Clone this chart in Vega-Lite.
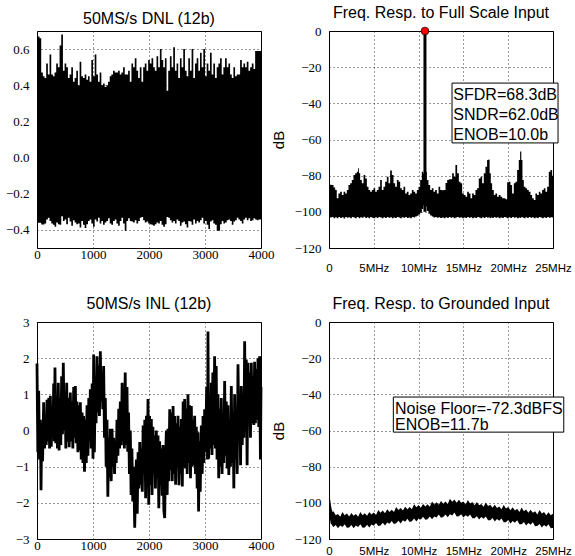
{
"$schema":"https://vega.github.io/schema/vega-lite/v6.json",
"background":"white",
"padding":{"left":4,"top":4,"right":0,"bottom":0},
"bounds":"flush",
"columns":2,
"spacing":{"row":74,"column":68},
"config":{
 "view":{"stroke":"black","strokeWidth":1},
 "axis":{"grid":true,"gridColor":"black","gridDash":[1,3],"gridOpacity":1,"gridWidth":0.8,"domain":false,"ticks":false,"labelFont":"Liberation Serif","labelFontSize":13,"labelColor":"black","labelFlush":false,"labelOverlap":false,"titleFont":"Liberation Sans","titleFontWeight":"normal","titleFontSize":15,"titleColor":"black"},
 "axisX":{"labelPadding":0},
 "axisY":{"labelPadding":8},
 "title":{"font":"Liberation Sans","fontSize":16,"fontWeight":"normal","offset":4,"color":"black"}
},
"datasets":{
"dnl":[
{"x":0,"hi":0.62,"lo":-0.36},{"x":30,"hi":0.67,"lo":-0.36},{"x":60,"hi":0.66,"lo":-0.36},{"x":90,"hi":0.47,"lo":-0.37},{"x":119,"hi":0.45,"lo":-0.37},{"x":149,"hi":0.44,"lo":-0.365},{"x":179,"hi":0.52,"lo":-0.342},{"x":209,"hi":0.46,"lo":-0.333},{"x":239,"hi":0.57,"lo":-0.35},{"x":269,"hi":0.46,"lo":-0.365},
{"x":299,"hi":0.45,"lo":-0.372},{"x":328,"hi":0.47,"lo":-0.382},{"x":358,"hi":0.52,"lo":-0.359},{"x":388,"hi":0.50,"lo":-0.368},{"x":418,"hi":0.62,"lo":-0.372},{"x":448,"hi":0.68,"lo":-0.324},{"x":478,"hi":0.48,"lo":-0.35},{"x":507,"hi":0.52,"lo":-0.342},{"x":537,"hi":0.50,"lo":-0.368},{"x":567,"hi":0.44,"lo":-0.333},
{"x":597,"hi":0.46,"lo":-0.354},{"x":627,"hi":0.50,"lo":-0.377},{"x":657,"hi":0.42,"lo":-0.347},{"x":687,"hi":0.44,"lo":-0.359},{"x":716,"hi":0.48,"lo":-0.368},{"x":746,"hi":0.40,"lo":-0.365},{"x":776,"hi":0.53,"lo":-0.386},{"x":806,"hi":0.45,"lo":-0.35},{"x":836,"hi":0.44,"lo":-0.372},{"x":866,"hi":0.46,"lo":-0.389},
{"x":896,"hi":0.43,"lo":-0.368},{"x":925,"hi":0.45,"lo":-0.35},{"x":955,"hi":0.42,"lo":-0.342},{"x":985,"hi":0.54,"lo":-0.365},{"x":1015,"hi":0.45,"lo":-0.382},{"x":1045,"hi":0.57,"lo":-0.342},{"x":1075,"hi":0.46,"lo":-0.354},{"x":1104,"hi":0.42,"lo":-0.333},{"x":1134,"hi":0.47,"lo":-0.365},{"x":1164,"hi":0.40,"lo":-0.35},
{"x":1194,"hi":0.41,"lo":-0.372},{"x":1224,"hi":0.39,"lo":-0.359},{"x":1254,"hi":0.40,"lo":-0.35},{"x":1284,"hi":0.42,"lo":-0.336},{"x":1313,"hi":0.45,"lo":-0.365},{"x":1343,"hi":0.46,"lo":-0.372},{"x":1373,"hi":0.48,"lo":-0.35},{"x":1403,"hi":0.47,"lo":-0.342},{"x":1433,"hi":0.47,"lo":-0.365},{"x":1463,"hi":0.48,"lo":-0.377},
{"x":1493,"hi":0.46,"lo":-0.35},{"x":1522,"hi":0.47,"lo":-0.333},{"x":1552,"hi":0.50,"lo":-0.365},{"x":1582,"hi":0.46,"lo":-0.404},{"x":1612,"hi":0.46,"lo":-0.35},{"x":1642,"hi":0.48,"lo":-0.336},{"x":1672,"hi":0.42,"lo":-0.35},{"x":1701,"hi":0.52,"lo":-0.354},{"x":1731,"hi":0.50,"lo":-0.359},{"x":1761,"hi":0.55,"lo":-0.347},
{"x":1791,"hi":0.48,"lo":-0.365},{"x":1821,"hi":0.44,"lo":-0.35},{"x":1851,"hi":0.50,"lo":-0.333},{"x":1881,"hi":0.42,"lo":-0.329},{"x":1910,"hi":0.50,"lo":-0.347},{"x":1940,"hi":0.52,"lo":-0.359},{"x":1970,"hi":0.48,"lo":-0.354},{"x":2000,"hi":0.54,"lo":-0.365},{"x":2030,"hi":0.52,"lo":-0.368},{"x":2060,"hi":0.55,"lo":-0.372},
{"x":2090,"hi":0.50,"lo":-0.377},{"x":2119,"hi":0.48,"lo":-0.368},{"x":2149,"hi":0.56,"lo":-0.359},{"x":2179,"hi":0.50,"lo":-0.365},{"x":2209,"hi":0.60,"lo":-0.35},{"x":2239,"hi":0.54,"lo":-0.372},{"x":2269,"hi":0.50,"lo":-0.382},{"x":2299,"hi":0.55,"lo":-0.368},{"x":2328,"hi":0.37,"lo":-0.329},{"x":2358,"hi":0.48,"lo":-0.333},
{"x":2388,"hi":0.56,"lo":-0.347},{"x":2418,"hi":0.50,"lo":-0.359},{"x":2448,"hi":0.61,"lo":-0.35},{"x":2478,"hi":0.48,"lo":-0.365},{"x":2507,"hi":0.52,"lo":-0.342},{"x":2537,"hi":0.44,"lo":-0.35},{"x":2567,"hi":0.55,"lo":-0.377},{"x":2597,"hi":0.50,"lo":-0.359},{"x":2627,"hi":0.60,"lo":-0.354},{"x":2657,"hi":0.48,"lo":-0.368},
{"x":2687,"hi":0.45,"lo":-0.386},{"x":2716,"hi":0.55,"lo":-0.35},{"x":2746,"hi":0.48,"lo":-0.354},{"x":2776,"hi":0.60,"lo":-0.372},{"x":2806,"hi":0.44,"lo":-0.342},{"x":2836,"hi":0.52,"lo":-0.365},{"x":2866,"hi":0.55,"lo":-0.35},{"x":2896,"hi":0.48,"lo":-0.359},{"x":2925,"hi":0.58,"lo":-0.347},{"x":2955,"hi":0.50,"lo":-0.333},
{"x":2985,"hi":0.60,"lo":-0.365},{"x":3015,"hi":0.45,"lo":-0.35},{"x":3045,"hi":0.52,"lo":-0.372},{"x":3075,"hi":0.48,"lo":-0.395},{"x":3104,"hi":0.58,"lo":-0.354},{"x":3134,"hi":0.46,"lo":-0.347},{"x":3164,"hi":0.52,"lo":-0.365},{"x":3194,"hi":0.44,"lo":-0.372},{"x":3224,"hi":0.50,"lo":-0.404},{"x":3254,"hi":0.52,"lo":-0.404},
{"x":3284,"hi":0.55,"lo":-0.368},{"x":3313,"hi":0.46,"lo":-0.35},{"x":3343,"hi":0.50,"lo":-0.365},{"x":3373,"hi":0.55,"lo":-0.359},{"x":3403,"hi":0.50,"lo":-0.347},{"x":3433,"hi":0.52,"lo":-0.342},{"x":3463,"hi":0.46,"lo":-0.35},{"x":3493,"hi":0.44,"lo":-0.372},{"x":3522,"hi":0.50,"lo":-0.354},{"x":3552,"hi":0.45,"lo":-0.347},
{"x":3582,"hi":0.46,"lo":-0.333},{"x":3612,"hi":0.46,"lo":-0.342},{"x":3642,"hi":0.54,"lo":-0.35},{"x":3672,"hi":0.50,"lo":-0.365},{"x":3701,"hi":0.52,"lo":-0.342},{"x":3731,"hi":0.50,"lo":-0.333},{"x":3761,"hi":0.53,"lo":-0.347},{"x":3791,"hi":0.48,"lo":-0.336},{"x":3821,"hi":0.50,"lo":-0.35},{"x":3851,"hi":0.52,"lo":-0.347},
{"x":3881,"hi":0.49,"lo":-0.336},{"x":3910,"hi":0.59,"lo":-0.342},{"x":3940,"hi":0.59,"lo":-0.347},{"x":3970,"hi":0.59,"lo":-0.342},{"x":4000,"hi":0.59,"lo":-0.342}
],
"inl":[
{"x":0,"v":1.85},{"x":15,"v":-0.6},{"x":30,"v":1.1},{"x":45,"v":-0.8},{"x":60,"v":0.3},{"x":72,"v":-1.65},{"x":85,"v":0.2},{"x":100,"v":-0.85},{"x":119,"v":0.78},{"x":135,"v":-0.5},
{"x":150,"v":0.4},{"x":165,"v":-0.4},{"x":179,"v":0.85},{"x":195,"v":-0.3},{"x":210,"v":0.9},{"x":225,"v":-0.5},{"x":238,"v":0.96},{"x":255,"v":-0.45},{"x":270,"v":0.6},{"x":285,"v":-0.2},
{"x":298,"v":1.3},{"x":310,"v":-0.3},{"x":321,"v":1.74},{"x":335,"v":-0.35},{"x":350,"v":0.8},{"x":365,"v":-0.5},{"x":380,"v":1.32},{"x":395,"v":-0.55},{"x":410,"v":0.9},{"x":425,"v":-0.4},
{"x":440,"v":1.5},{"x":455,"v":-0.1},{"x":470,"v":1.87},{"x":485,"v":0.0},{"x":500,"v":1.1},{"x":515,"v":-0.5},{"x":530,"v":1.32},{"x":545,"v":-0.3},{"x":560,"v":0.9},{"x":575,"v":-0.46},
{"x":595,"v":1.05},{"x":610,"v":-0.3},{"x":625,"v":0.8},{"x":640,"v":-0.5},{"x":655,"v":1.2},{"x":670,"v":-0.2},{"x":685,"v":1.23},{"x":700,"v":-0.35},{"x":714,"v":0.8},{"x":730,"v":-0.6},
{"x":745,"v":0.7},{"x":760,"v":-0.55},{"x":774,"v":0.78},{"x":790,"v":-0.8},{"x":805,"v":0.5},{"x":820,"v":-0.9},{"x":833,"v":0.4},{"x":848,"v":-1.14},{"x":865,"v":0.3},{"x":880,"v":-0.9},
{"x":893,"v":0.7},{"x":910,"v":-0.7},{"x":925,"v":0.9},{"x":940,"v":-0.3},{"x":952,"v":1.14},{"x":968,"v":-0.5},{"x":985,"v":1.3},{"x":1000,"v":-0.78},{"x":1012,"v":2.1},{"x":1025,"v":-0.6},
{"x":1040,"v":1.5},{"x":1055,"v":0.2},{"x":1071,"v":2.05},{"x":1085,"v":0.5},{"x":1100,"v":1.8},{"x":1115,"v":0.4},{"x":1131,"v":2.19},{"x":1145,"v":0.8},{"x":1160,"v":1.6},{"x":1175,"v":0.59},
{"x":1190,"v":1.78},{"x":1205,"v":-0.2},{"x":1220,"v":0.9},{"x":1235,"v":-1.0},{"x":1250,"v":0.3},{"x":1265,"v":-1.83},{"x":1280,"v":-0.2},{"x":1295,"v":-1.3},{"x":1309,"v":0.05},{"x":1325,"v":-1.4},
{"x":1340,"v":0.05},{"x":1355,"v":-1.0},{"x":1369,"v":-0.2},{"x":1385,"v":-1.2},{"x":1400,"v":-0.3},{"x":1415,"v":-0.9},{"x":1428,"v":0.3},{"x":1445,"v":-0.7},{"x":1460,"v":0.6},{"x":1475,"v":-0.5},
{"x":1488,"v":0.8},{"x":1505,"v":-0.41},{"x":1520,"v":1.32},{"x":1535,"v":-0.3},{"x":1547,"v":1.0},{"x":1560,"v":-0.5},{"x":1575,"v":1.6},{"x":1590,"v":-0.4},{"x":1607,"v":1.2},{"x":1620,"v":-0.59},
{"x":1635,"v":0.5},{"x":1650,"v":-1.2},{"x":1666,"v":0.0},{"x":1680,"v":-1.78},{"x":1695,"v":-0.5},{"x":1710,"v":-1.96},{"x":1726,"v":-1.0},{"x":1745,"v":-2.69},{"x":1760,"v":-1.5},{"x":1775,"v":-0.8},
{"x":1790,"v":-2.3},{"x":1805,"v":-0.6},{"x":1820,"v":-1.6},{"x":1835,"v":-0.32},{"x":1850,"v":-1.5},{"x":1865,"v":-0.5},{"x":1880,"v":-1.69},{"x":1895,"v":0.14},{"x":1910,"v":-1.2},{"x":1925,"v":0.3},
{"x":1940,"v":-1.87},{"x":1955,"v":0.41},{"x":1970,"v":-1.0},{"x":1982,"v":0.87},{"x":1995,"v":-2.05},{"x":2010,"v":0.4},{"x":2025,"v":-1.5},{"x":2042,"v":0.32},{"x":2055,"v":-1.78},{"x":2070,"v":0.1},
{"x":2085,"v":-1.2},{"x":2101,"v":-0.14},{"x":2115,"v":-1.6},{"x":2130,"v":0.0},{"x":2145,"v":-1.3},{"x":2161,"v":-0.14},{"x":2175,"v":-2.15},{"x":2190,"v":-0.3},{"x":2205,"v":-1.5},{"x":2220,"v":-0.5},
{"x":2235,"v":-1.8},{"x":2250,"v":-0.4},{"x":2265,"v":-2.2},{"x":2280,"v":-2.42},{"x":2295,"v":-0.8},{"x":2310,"v":0.0},{"x":2325,"v":-1.78},{"x":2339,"v":0.05},{"x":2355,"v":-1.4},{"x":2370,"v":0.59},
{"x":2385,"v":-1.1},{"x":2399,"v":0.5},{"x":2415,"v":-1.4},{"x":2430,"v":0.68},{"x":2445,"v":-1.2},{"x":2458,"v":0.4},{"x":2475,"v":-1.5},{"x":2490,"v":0.2},{"x":2505,"v":-1.0},{"x":2518,"v":0.41},
{"x":2535,"v":-1.51},{"x":2550,"v":0.1},{"x":2565,"v":-1.2},{"x":2577,"v":0.32},{"x":2595,"v":-1.55},{"x":2610,"v":0.8},{"x":2625,"v":-1.0},{"x":2637,"v":0.87},{"x":2652,"v":-1.05},{"x":2667,"v":0.6},
{"x":2682,"v":-1.2},{"x":2696,"v":1.0},{"x":2712,"v":-0.9},{"x":2726,"v":0.7},{"x":2741,"v":-1.32},{"x":2756,"v":0.68},{"x":2770,"v":-1.0},{"x":2785,"v":0.3},{"x":2800,"v":-0.96},{"x":2815,"v":0.41},
{"x":2830,"v":-1.2},{"x":2845,"v":0.1},{"x":2860,"v":-1.6},{"x":2875,"v":-0.05},{"x":2885,"v":-2.24},{"x":2900,"v":-0.3},{"x":2915,"v":-1.69},{"x":2934,"v":0.14},{"x":2950,"v":-1.2},{"x":2965,"v":0.4},
{"x":2980,"v":-0.9},{"x":2994,"v":0.59},{"x":3010,"v":-0.6},{"x":3030,"v":1.2},{"x":3045,"v":-0.8},{"x":3053,"v":2.74},{"x":3065,"v":-0.78},{"x":3080,"v":0.6},{"x":3095,"v":-0.5},{"x":3113,"v":1.32},
{"x":3125,"v":-0.68},{"x":3140,"v":1.6},{"x":3155,"v":-0.4},{"x":3172,"v":2.05},{"x":3185,"v":-0.5},{"x":3200,"v":1.78},{"x":3215,"v":-0.8},{"x":3232,"v":1.0},{"x":3245,"v":-1.32},{"x":3260,"v":0.6},
{"x":3275,"v":-1.0},{"x":3291,"v":0.9},{"x":3305,"v":-1.2},{"x":3320,"v":0.4},{"x":3335,"v":-0.9},{"x":3351,"v":1.37},{"x":3365,"v":-0.7},{"x":3380,"v":0.8},{"x":3395,"v":-1.05},{"x":3410,"v":0.7},
{"x":3425,"v":-1.23},{"x":3440,"v":0.3},{"x":3455,"v":-1.0},{"x":3470,"v":1.23},{"x":3485,"v":-0.9},{"x":3500,"v":0.5},{"x":3515,"v":-1.6},{"x":3529,"v":1.0},{"x":3545,"v":-0.8},{"x":3560,"v":0.6},
{"x":3575,"v":-1.2},{"x":3589,"v":1.83},{"x":3605,"v":0.05},{"x":3620,"v":1.0},{"x":3635,"v":-0.96},{"x":3648,"v":1.23},{"x":3665,"v":-0.4},{"x":3680,"v":0.9},{"x":3695,"v":-0.2},{"x":3708,"v":2.47},
{"x":3722,"v":0.0},{"x":3737,"v":1.96},{"x":3752,"v":-0.96},{"x":3767,"v":1.87},{"x":3782,"v":0.4},{"x":3797,"v":1.6},{"x":3812,"v":-0.2},{"x":3827,"v":1.87},{"x":3842,"v":0.2},{"x":3857,"v":1.5},
{"x":3872,"v":0.15},{"x":3886,"v":1.9},{"x":3900,"v":0.2},{"x":3915,"v":1.7},{"x":3930,"v":0.3},{"x":3946,"v":2.0},{"x":3960,"v":0.1},{"x":3975,"v":2.05},{"x":3990,"v":-0.8},{"x":4000,"v":1.2}
],
"fs":[
{"f":0.0,"hi":-84.2,"lo":-102.5},{"f":0.2,"hi":-85.0,"lo":-103.2},{"f":0.41,"hi":-85.2,"lo":-102.8},{"f":0.6,"hi":-86.5,"lo":-103.5},{"f":0.78,"hi":-87.9,"lo":-103.0},{"f":0.95,"hi":-92.5,"lo":-103.6},{"f":1.15,"hi":-89.8,"lo":-102.9},{"f":1.34,"hi":-88.9,"lo":-103.4},{"f":1.53,"hi":-90.7,"lo":-103.0},{"f":1.72,"hi":-88.9,"lo":-103.7},
{"f":1.9,"hi":-89.8,"lo":-102.8},{"f":2.08,"hi":-87.9,"lo":-103.3},{"f":2.27,"hi":-85.2,"lo":-103.0},{"f":2.45,"hi":-84.2,"lo":-103.6},{"f":2.64,"hi":-82.4,"lo":-102.9},{"f":2.83,"hi":-79.6,"lo":-103.2},{"f":3.01,"hi":-78.7,"lo":-103.5},{"f":3.2,"hi":-77.8,"lo":-102.8},{"f":3.31,"hi":-75.9,"lo":-103.1},{"f":3.39,"hi":-78.7,"lo":-103.6},
{"f":3.57,"hi":-82.4,"lo":-103.0},{"f":3.76,"hi":-84.2,"lo":-103.3},{"f":3.95,"hi":-79.6,"lo":-102.7},{"f":4.13,"hi":-81.5,"lo":-103.4},{"f":4.32,"hi":-86.1,"lo":-103.0},{"f":4.5,"hi":-87.9,"lo":-103.5},{"f":4.69,"hi":-88.9,"lo":-102.9},{"f":4.87,"hi":-87.9,"lo":-103.3},{"f":5.06,"hi":-87.0,"lo":-103.6},{"f":5.25,"hi":-88.9,"lo":-103.0},
{"f":5.43,"hi":-87.9,"lo":-103.4},{"f":5.62,"hi":-86.1,"lo":-102.8},{"f":5.8,"hi":-82.4,"lo":-103.2},{"f":5.99,"hi":-87.9,"lo":-103.5},{"f":6.17,"hi":-86.1,"lo":-103.0},{"f":6.36,"hi":-83.3,"lo":-103.4},{"f":6.55,"hi":-80.6,"lo":-102.9},{"f":6.73,"hi":-84.2,"lo":-103.3},{"f":6.92,"hi":-77.2,"lo":-103.0},{"f":7.11,"hi":-79.6,"lo":-103.5},
{"f":7.29,"hi":-84.2,"lo":-103.1},{"f":7.48,"hi":-86.1,"lo":-103.4},{"f":7.67,"hi":-82.4,"lo":-102.8},{"f":7.85,"hi":-83.3,"lo":-103.2},{"f":8.04,"hi":-87.0,"lo":-103.6},{"f":8.22,"hi":-87.9,"lo":-103.0},{"f":8.41,"hi":-86.1,"lo":-103.3},{"f":8.59,"hi":-89.8,"lo":-102.9},{"f":8.78,"hi":-88.9,"lo":-103.4},{"f":8.97,"hi":-90.7,"lo":-103.1},
{"f":9.15,"hi":-89.8,"lo":-103.5},{"f":9.34,"hi":-87.9,"lo":-102.8},{"f":9.52,"hi":-88.9,"lo":-103.2},{"f":9.71,"hi":-89.8,"lo":-102.6},{"f":9.9,"hi":-87.9,"lo":-102.2},{"f":10.08,"hi":-86.1,"lo":-101.5},{"f":10.27,"hi":-82.4,"lo":-100.5},{"f":10.45,"hi":-77.8,"lo":-98.5},{"f":10.6,"hi":-79.0,"lo":-96.5},{"f":10.83,"hi":-77.8,"lo":-97.0},
{"f":11.0,"hi":-82.4,"lo":-99.5},{"f":11.2,"hi":-85.2,"lo":-101.0},{"f":11.38,"hi":-87.9,"lo":-102.0},{"f":11.57,"hi":-87.0,"lo":-102.6},{"f":11.75,"hi":-88.9,"lo":-103.1},{"f":11.94,"hi":-87.9,"lo":-102.8},{"f":12.13,"hi":-89.8,"lo":-103.3},{"f":12.32,"hi":-86.1,"lo":-103.0},{"f":12.5,"hi":-87.9,"lo":-103.4},{"f":12.72,"hi":-88.0,"lo":-103.1},
{"f":12.91,"hi":-87.9,"lo":-103.5},{"f":13.1,"hi":-84.0,"lo":-103.0},{"f":13.28,"hi":-82.4,"lo":-103.4},{"f":13.47,"hi":-82.0,"lo":-102.9},{"f":13.65,"hi":-82.0,"lo":-103.3},{"f":13.84,"hi":-78.7,"lo":-103.0},{"f":14.02,"hi":-80.6,"lo":-103.6},{"f":14.2,"hi":-74.1,"lo":-103.2},{"f":14.4,"hi":-78.7,"lo":-102.8},{"f":14.58,"hi":-83.3,"lo":-103.3},
{"f":14.77,"hi":-84.2,"lo":-103.0},{"f":14.95,"hi":-89.8,"lo":-103.5},{"f":15.14,"hi":-90.7,"lo":-103.1},{"f":15.33,"hi":-91.6,"lo":-103.4},{"f":15.51,"hi":-88.9,"lo":-102.9},{"f":15.7,"hi":-89.8,"lo":-103.3},{"f":15.88,"hi":-92.5,"lo":-103.0},{"f":16.07,"hi":-89.8,"lo":-103.5},{"f":16.25,"hi":-90.7,"lo":-103.1},{"f":16.44,"hi":-87.9,"lo":-103.4},
{"f":16.62,"hi":-87.0,"lo":-102.8},{"f":16.81,"hi":-81.5,"lo":-103.2},{"f":17.0,"hi":-80.6,"lo":-103.5},{"f":17.18,"hi":-84.2,"lo":-103.0},{"f":17.37,"hi":-78.7,"lo":-103.4},{"f":17.55,"hi":-75.0,"lo":-102.9},{"f":17.74,"hi":-71.4,"lo":-103.3},{"f":17.85,"hi":-71.0,"lo":-103.0},{"f":18.0,"hi":-78.7,"lo":-103.5},{"f":18.11,"hi":-84.2,"lo":-103.1},
{"f":18.3,"hi":-87.9,"lo":-103.4},{"f":18.48,"hi":-90.7,"lo":-102.9},{"f":18.67,"hi":-89.8,"lo":-103.3},{"f":18.86,"hi":-91.6,"lo":-103.0},{"f":19.04,"hi":-90.7,"lo":-103.5},{"f":19.23,"hi":-91.6,"lo":-103.1},{"f":19.42,"hi":-92.5,"lo":-103.4},{"f":19.6,"hi":-92.5,"lo":-102.8},{"f":19.79,"hi":-93.1,"lo":-103.2},{"f":19.97,"hi":-83.6,"lo":-103.6},
{"f":20.16,"hi":-83.3,"lo":-103.0},{"f":20.34,"hi":-85.2,"lo":-103.4},{"f":20.53,"hi":-89.8,"lo":-102.9},{"f":20.72,"hi":-84.2,"lo":-103.3},{"f":20.9,"hi":-83.3,"lo":-103.0},{"f":21.09,"hi":-76.9,"lo":-103.5},{"f":21.27,"hi":-71.4,"lo":-103.1},{"f":21.39,"hi":-66.7,"lo":-103.4},{"f":21.53,"hi":-71.4,"lo":-102.8},{"f":21.65,"hi":-82.4,"lo":-103.2},
{"f":21.83,"hi":-86.1,"lo":-103.6},{"f":22.02,"hi":-87.0,"lo":-103.0},{"f":22.2,"hi":-87.9,"lo":-103.4},{"f":22.39,"hi":-88.9,"lo":-102.9},{"f":22.58,"hi":-90.7,"lo":-103.3},{"f":22.76,"hi":-92.5,"lo":-103.0},{"f":22.95,"hi":-93.4,"lo":-103.5},{"f":23.13,"hi":-89.8,"lo":-103.1},{"f":23.32,"hi":-90.7,"lo":-103.4},{"f":23.51,"hi":-88.9,"lo":-102.8},
{"f":23.69,"hi":-89.8,"lo":-103.2},{"f":23.88,"hi":-87.9,"lo":-103.6},{"f":24.06,"hi":-87.0,"lo":-103.0},{"f":24.25,"hi":-88.9,"lo":-103.4},{"f":24.44,"hi":-86.1,"lo":-102.9},{"f":24.62,"hi":-77.8,"lo":-103.3},{"f":24.81,"hi":-76.9,"lo":-103.0},{"f":25.0,"hi":-80.0,"lo":-103.2}
],
"tone":[{"f":10.71,"db":0,"base":-100}],
"gnd":[
{"f":0,"hi":-95.2,"lo":-107.5},{"f":0.1,"hi":-97,"lo":-109},{"f":0.2,"hi":-100.8,"lo":-111.5},{"f":0.3,"hi":-103.5,"lo":-112.0},{"f":0.4,"hi":-105.0,"lo":-112.8},
{"f":0.5,"hi":-104.7,"lo":-113.4},{"f":0.75,"hi":-106.9,"lo":-112.3},{"f":1.0,"hi":-106.2,"lo":-114.0},{"f":1.25,"hi":-107.7,"lo":-112.5},{"f":1.5,"hi":-105.1,"lo":-113.3},{"f":1.75,"hi":-106.9,"lo":-111.9},{"f":2.0,"hi":-105.9,"lo":-113.8},{"f":2.25,"hi":-107.5,"lo":-113.6},{"f":2.5,"hi":-105.6,"lo":-112.3},{"f":2.75,"hi":-107.2,"lo":-114.0},
{"f":3.0,"hi":-106.2,"lo":-112.5},{"f":3.25,"hi":-107.7,"lo":-113.3},{"f":3.5,"hi":-105.1,"lo":-111.9},{"f":3.75,"hi":-106.9,"lo":-113.8},{"f":4.0,"hi":-105.8,"lo":-113.6},{"f":4.25,"hi":-107.2,"lo":-112.1},{"f":4.5,"hi":-105.1,"lo":-113.7},{"f":4.75,"hi":-106.5,"lo":-112.0},{"f":5.0,"hi":-105.3,"lo":-112.7},{"f":5.25,"hi":-106.7,"lo":-111.1},
{"f":5.5,"hi":-103.9,"lo":-112.8},{"f":5.75,"hi":-105.5,"lo":-112.5},{"f":6.0,"hi":-104.3,"lo":-111.0},{"f":6.25,"hi":-105.7,"lo":-112.5},{"f":6.5,"hi":-103.6,"lo":-110.9},{"f":6.75,"hi":-105.0,"lo":-111.5},{"f":7.0,"hi":-103.8,"lo":-110.0},{"f":7.25,"hi":-105.1,"lo":-111.7},{"f":7.5,"hi":-102.3,"lo":-111.3},{"f":7.75,"hi":-104.0,"lo":-109.9},
{"f":8.0,"hi":-102.8,"lo":-111.4},{"f":8.25,"hi":-104.2,"lo":-109.7},{"f":8.5,"hi":-102.1,"lo":-110.4},{"f":8.75,"hi":-103.5,"lo":-108.8},{"f":9.0,"hi":-102.3,"lo":-110.6},{"f":9.25,"hi":-103.6,"lo":-110.2},{"f":9.5,"hi":-100.8,"lo":-108.7},{"f":9.75,"hi":-102.4,"lo":-110.3},{"f":10.0,"hi":-101.2,"lo":-108.6},{"f":10.25,"hi":-102.7,"lo":-109.2},
{"f":10.5,"hi":-100.6,"lo":-107.7},{"f":10.75,"hi":-102.0,"lo":-109.4},{"f":11.0,"hi":-100.8,"lo":-109.1},{"f":11.25,"hi":-102.1,"lo":-107.6},{"f":11.5,"hi":-99.3,"lo":-109.1},{"f":11.75,"hi":-100.9,"lo":-107.5},{"f":12.0,"hi":-99.7,"lo":-108.1},{"f":12.25,"hi":-101.1,"lo":-106.5},{"f":12.5,"hi":-99.0,"lo":-108.3},{"f":12.75,"hi":-100.5,"lo":-107.9},
{"f":13.0,"hi":-99.3,"lo":-106.5},{"f":13.25,"hi":-100.6,"lo":-108.0},{"f":13.5,"hi":-97.8,"lo":-106.3},{"f":13.75,"hi":-99.4,"lo":-107.0},{"f":14.0,"hi":-98.2,"lo":-105.4},{"f":14.25,"hi":-100.0,"lo":-107.5},{"f":14.5,"hi":-98.3,"lo":-107.4},{"f":14.75,"hi":-100.0,"lo":-106.3},{"f":15.0,"hi":-99.2,"lo":-108.1},{"f":15.25,"hi":-100.9,"lo":-106.8},
{"f":15.5,"hi":-98.4,"lo":-107.7},{"f":15.75,"hi":-100.4,"lo":-106.5},{"f":16.0,"hi":-99.6,"lo":-108.5},{"f":16.25,"hi":-101.4,"lo":-108.5},{"f":16.5,"hi":-99.6,"lo":-107.4},{"f":16.75,"hi":-101.4,"lo":-109.2},{"f":17.0,"hi":-100.6,"lo":-107.9},{"f":17.25,"hi":-102.2,"lo":-108.8},{"f":17.5,"hi":-99.8,"lo":-107.6},{"f":17.75,"hi":-101.8,"lo":-109.6},
{"f":18.0,"hi":-101.0,"lo":-109.6},{"f":18.25,"hi":-102.7,"lo":-108.4},{"f":18.5,"hi":-101.0,"lo":-110.3},{"f":18.75,"hi":-102.8,"lo":-109.0},{"f":19.0,"hi":-102.0,"lo":-109.9},{"f":19.25,"hi":-103.6,"lo":-108.7},{"f":19.5,"hi":-101.2,"lo":-110.7},{"f":19.75,"hi":-103.2,"lo":-110.7},{"f":20.0,"hi":-102.3,"lo":-109.5},{"f":20.25,"hi":-104.1,"lo":-111.4},
{"f":20.5,"hi":-102.4,"lo":-110.0},{"f":20.75,"hi":-104.2,"lo":-111.0},{"f":21.0,"hi":-103.3,"lo":-109.7},{"f":21.25,"hi":-105.0,"lo":-111.8},{"f":21.5,"hi":-102.6,"lo":-111.8},{"f":21.75,"hi":-104.6,"lo":-110.6},{"f":22.0,"hi":-103.7,"lo":-112.5},{"f":22.25,"hi":-105.5,"lo":-111.1},{"f":22.5,"hi":-103.8,"lo":-112.1},{"f":22.75,"hi":-105.5,"lo":-110.8},
{"f":23.0,"hi":-104.7,"lo":-112.9},{"f":23.25,"hi":-106.4,"lo":-112.8},{"f":23.5,"hi":-104.0,"lo":-111.7},{"f":23.75,"hi":-105.9,"lo":-113.6},{"f":24.0,"hi":-105.1,"lo":-112.2},{"f":24.25,"hi":-106.9,"lo":-113.2},{"f":24.5,"hi":-105.2,"lo":-111.9},{"f":24.75,"hi":-106.9,"lo":-114.0},{"f":25.0,"hi":-106.1,"lo":-113.9}
]
},
"concat":[
{
 "width":224,"height":217,
 "title":"50MS/s DNL (12b)",
 "data":{"name":"dnl"},
 "mark":{"type":"area","interpolate":"step","color":"black","opacity":1},
 "encoding":{
  "x":{"field":"x","type":"quantitative","scale":{"domain":[0,4000],"nice":false},"axis":{"title":null,"values":[0,1000,2000,3000,4000],"format":"d"}},
  "y":{"field":"hi","type":"quantitative","scale":{"domain":[-0.5,0.7],"nice":false,"zero":false},"axis":{"title":null,"values":[-0.4,-0.2,0,0.2,0.4,0.6],"format":".1f"}},
  "y2":{"field":"lo"}
 }
},
{
 "width":224,"height":217,
 "title":"Freq. Resp. to Full Scale Input",
 "layer":[
  {"data":{"name":"fs"},"mark":{"type":"area","interpolate":"step","color":"black","opacity":1},
   "encoding":{
    "x":{"field":"f","type":"quantitative","scale":{"domain":[0,25],"nice":false},"axis":{"title":null,"values":[0,5,10,15,20,25],"labelExpr":"datum.value == 0 ? '0' : datum.value + 'MHz'","labelFont":"Liberation Sans","labelFontSize":11.5,"labelPadding":14}},
    "y":{"field":"hi","type":"quantitative","scale":{"domain":[-120,0],"nice":false},"axis":{"title":"dB","titlePadding":8,"values":[-120,-100,-80,-60,-40,-20,0],"format":"d"}},
    "y2":{"field":"lo"}}},
  {"data":{"name":"tone"},"mark":{"type":"rule","color":"black","strokeWidth":3},
   "encoding":{"x":{"field":"f","type":"quantitative","axis":{"title":null,"values":[0,5,10,15,20,25],"labelExpr":"datum.value == 0 ? '0' : datum.value + 'MHz'","labelFont":"Liberation Sans","labelFontSize":11.5,"labelPadding":14}},"y":{"field":"db","type":"quantitative","axis":{"title":"dB","titlePadding":8,"values":[-120,-100,-80,-60,-40,-20,0],"format":"d"}},"y2":{"field":"base"}}},
  {"data":{"name":"tone"},"mark":{"type":"circle","fill":"red","stroke":"black","strokeWidth":0.7,"size":60,"opacity":1},
   "encoding":{"x":{"field":"f","type":"quantitative","axis":{"title":null,"values":[0,5,10,15,20,25],"labelExpr":"datum.value == 0 ? '0' : datum.value + 'MHz'","labelFont":"Liberation Sans","labelFontSize":11.5,"labelPadding":14}},"y":{"field":"db","type":"quantitative","axis":{"title":"dB","titlePadding":8,"values":[-120,-100,-80,-60,-40,-20,0],"format":"d"}}}},
  {"data":{"values":[{}]},"mark":{"type":"rect","fill":"white","stroke":"black","strokeWidth":1},
   "encoding":{"x":{"datum":13.73,"type":"quantitative","axis":{"title":null,"values":[0,5,10,15,20,25],"labelExpr":"datum.value == 0 ? '0' : datum.value + 'MHz'","labelFont":"Liberation Sans","labelFontSize":11.5,"labelPadding":14}},"x2":{"datum":25.56},"y":{"datum":-28.8,"type":"quantitative","axis":{"title":"dB","titlePadding":8,"values":[-120,-100,-80,-60,-40,-20,0],"format":"d"}},"y2":{"datum":-61.9}}},
  {"data":{"values":[{}]},"mark":{"type":"text","text":["SFDR=68.3dB","SNDR=62.0dB","ENOB=10.0b"],"align":"left","baseline":"alphabetic","lineHeight":20,"font":"Liberation Sans","fontSize":16,"color":"black"},
   "encoding":{"x":{"datum":13.88,"type":"quantitative","axis":{"title":null,"values":[0,5,10,15,20,25],"labelExpr":"datum.value == 0 ? '0' : datum.value + 'MHz'","labelFont":"Liberation Sans","labelFontSize":11.5,"labelPadding":14}},"y":{"datum":-38.2,"type":"quantitative","axis":{"title":"dB","titlePadding":8,"values":[-120,-100,-80,-60,-40,-20,0],"format":"d"}}}}
 ]
},
{
 "width":224,"height":217,
 "title":"50MS/s INL (12b)",
 "data":{"name":"inl"},
 "mark":{"type":"line","color":"black","strokeWidth":2.8},
 "encoding":{
  "x":{"field":"x","type":"quantitative","scale":{"domain":[0,4000],"nice":false},"axis":{"title":null,"values":[0,1000,2000,3000,4000],"format":"d"}},
  "y":{"field":"v","type":"quantitative","scale":{"domain":[-3,3],"nice":false},"axis":{"title":null,"values":[-3,-2,-1,0,1,2,3],"format":"d"}}
 }
},
{
 "width":224,"height":217,
 "title":"Freq. Resp. to Grounded Input",
 "layer":[
  {"data":{"name":"gnd"},"mark":{"type":"area","color":"black","opacity":1},
   "encoding":{
    "x":{"field":"f","type":"quantitative","scale":{"domain":[0,25],"nice":false},"axis":{"title":null,"values":[0,5,10,15,20,25],"labelExpr":"datum.value == 0 ? '0' : datum.value + 'MHz'","labelFont":"Liberation Sans","labelFontSize":11.5,"labelPadding":6}},
    "y":{"field":"hi","type":"quantitative","scale":{"domain":[-120,0],"nice":false},"axis":{"title":"dB","titlePadding":8,"values":[-120,-100,-80,-60,-40,-20,0],"format":"d"}},
    "y2":{"field":"lo"}}},
  {"data":{"values":[{}]},"mark":{"type":"rect","fill":"white","stroke":"black","strokeWidth":1},
   "encoding":{"x":{"datum":7.18,"type":"quantitative","axis":{"title":null,"values":[0,5,10,15,20,25],"labelExpr":"datum.value == 0 ? '0' : datum.value + 'MHz'","labelFont":"Liberation Sans","labelFontSize":11.5,"labelPadding":6}},"x2":{"datum":26.2},"y":{"datum":-41.5,"type":"quantitative","axis":{"title":"dB","titlePadding":8,"values":[-120,-100,-80,-60,-40,-20,0],"format":"d"}},"y2":{"datum":-60.9}}},
  {"data":{"values":[{}]},"mark":{"type":"text","text":["Noise Floor=-72.3dBFS","ENOB=11.7b"],"align":"left","baseline":"alphabetic","lineHeight":16,"font":"Liberation Sans","fontSize":16,"color":"black"},
   "encoding":{"x":{"datum":7.37,"type":"quantitative","axis":{"title":null,"values":[0,5,10,15,20,25],"labelExpr":"datum.value == 0 ? '0' : datum.value + 'MHz'","labelFont":"Liberation Sans","labelFontSize":11.5,"labelPadding":6}},"y":{"datum":-51.1,"type":"quantitative","axis":{"title":"dB","titlePadding":8,"values":[-120,-100,-80,-60,-40,-20,0],"format":"d"}}}}
 ]
}
]
}
